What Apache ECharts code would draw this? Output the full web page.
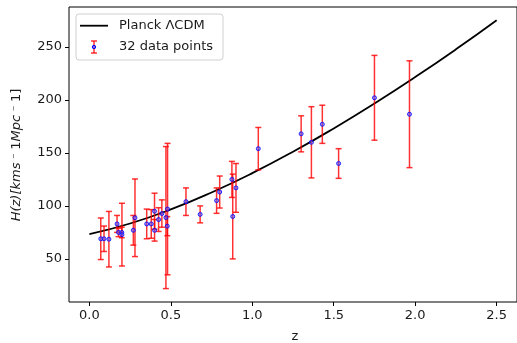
<!DOCTYPE html>
<html>
<head>
<meta charset="utf-8">
<script src="https://cdn.jsdelivr.net/npm/echarts@6/dist/echarts.min.js"></script>
<style>html,body{margin:0;padding:0;background:#fff}#c{width:517px;height:343px}</style>
</head>
<body>
<div id="c"></div>
<script>
// Observed H(z) data (32 points)
const zData = [0.07,0.09,0.12,0.17,0.179,0.199,0.20,0.27,0.28,0.352,0.38,0.40,0.4004,0.425,0.445,0.47,0.4783,0.48,0.593,0.68,0.781,0.80,0.875,0.88,0.90,1.037,1.30,1.363,1.43,1.53,1.75,1.965];
const hData = [69.0,69.0,68.6,83.0,75.0,75.0,72.9,77.0,88.8,83.0,83.0,95.0,77.0,87.1,92.8,89.0,80.9,97.0,104.0,92.0,105.0,113.1,125.0,90.0,117.0,154.0,168.0,160.0,177.0,140.0,202.0,186.5];
const hErr  = [19.6,12.0,26.2,8.0,4.0,5.0,29.6,14.0,36.6,14.0,13.5,17.0,10.2,11.2,12.9,67.0,9.0,62.0,13.0,8.0,12.0,15.1,17.0,40.0,23.0,20.0,17.0,33.6,18.0,14.0,40.0,50.4];
// Planck LCDM curve
const curveZ = [0,0.25,0.5,0.75,1.0,1.25,1.5,1.75,2.0,2.25,2.5];
const curveH = [73.3,83.4,96.7,112.7,130.9,151.1,173.1,196.6,221.5,247.7,275.2];
// Tick labels
const xTicks = [0,0.5,1.0,1.5,2.0,2.5];
const yTicks = [50,100,150,200,250];

const FONT = 'DejaVu Sans';
const chart = echarts.init(document.getElementById('c'), null, {renderer:'canvas'});

const points = zData.map((z,i)=>[z,hData[i]]);
const bars = zData.map((z,i)=>[z,hData[i]-hErr[i],hData[i]+hErr[i]]);
const curve = curveZ.map((z,i)=>[z,curveH[i]]);

const errColor = 'rgba(255,0,0,0.8)';

chart.setOption({
  animation:false,
  backgroundColor:'#fff',
  grid:{left:69,top:7,width:455,height:295,show:true,borderColor:'#000',borderWidth:1,backgroundColor:'transparent'},
  xAxis:{
    type:'value',min:-0.125,max:2.625,
    axisLine:{show:false,onZero:false},
    splitLine:{show:false},
    axisTick:{show:true,length:4,lineStyle:{color:'#000'},customValues:xTicks},
    axisLabel:{show:true,customValues:xTicks,color:'#1a1a1a',fontFamily:FONT,fontSize:13,margin:7,formatter:v=>v.toFixed(1)}
  },
  yAxis:{
    type:'value',min:9.35,max:287.65,
    axisLine:{show:false,onZero:false},
    splitLine:{show:false},
    axisTick:{show:true,length:4,lineStyle:{color:'#000'},customValues:yTicks},
    axisLabel:{show:true,customValues:yTicks,color:'#1a1a1a',fontFamily:FONT,fontSize:13,margin:7}
  },
  series:[
    {
      type:'line',data:curve,smooth:true,showSymbol:false,
      lineStyle:{color:'#000',width:1.8},z:3
    },
    {
      type:'custom',data:bars,z:4,
      renderItem:function(params,api){
        const x=api.value(0), lo=api.value(1), hi=api.value(2);
        const pLo=api.coord([x,lo]), pHi=api.coord([x,hi]);
        const cw=3;
        const st={stroke:errColor,lineWidth:1.5};
        return {type:'group',children:[
          {type:'line',shape:{x1:pLo[0],y1:pLo[1],x2:pHi[0],y2:pHi[1]},style:st},
          {type:'line',shape:{x1:pLo[0]-cw,y1:pLo[1],x2:pLo[0]+cw,y2:pLo[1]},style:st},
          {type:'line',shape:{x1:pHi[0]-cw,y1:pHi[1],x2:pHi[0]+cw,y2:pHi[1]},style:st}
        ]};
      },
      encode:{x:0,y:[1,2]}
    },
    {
      type:'scatter',data:points,symbol:'circle',symbolSize:4,z:5,
      itemStyle:{color:'rgba(90,90,255,0.7)',borderColor:'#0000ff',borderWidth:1}
    }
  ],
  graphic:[
    {type:'text',x:17,y:155,rotation:Math.PI/2,
      style:{text:'{i|H(z)[kms}{s| ⁻ }{r|1}{i|Mpc}{s| ⁻ }{r|1]}',align:'center',verticalAlign:'middle',
        rich:{i:{fontFamily:FONT,fontStyle:'italic',fontSize:13,fill:'#1a1a1a'},
              r:{fontFamily:FONT,fontSize:13,fill:'#1a1a1a'},
              s:{fontFamily:FONT,fontSize:11,fill:'#1a1a1a',verticalAlign:'top'}}}},
    {type:'text',x:295,y:337,style:{text:'z',font:'13px DejaVu Sans',fill:'#1a1a1a',align:'center',verticalAlign:'middle'}},
    {type:'group',z:100,children:[
      {type:'rect',shape:{x:76,y:14,width:147,height:46,r:3},style:{fill:'rgba(255,255,255,0.8)',stroke:'#d0d0d0',lineWidth:1}},
      {type:'line',shape:{x1:80,y1:25.7,x2:108,y2:25.7},style:{stroke:'#000',lineWidth:1.8}},
      {type:'text',x:119,y:25.7,style:{text:'Planck ΛCDM',font:'13px DejaVu Sans',fill:'#1a1a1a',verticalAlign:'middle'}},
      {type:'line',shape:{x1:94,y1:41,x2:94,y2:53},style:{stroke:errColor,lineWidth:1.5}},
      {type:'line',shape:{x1:91,y1:41,x2:97,y2:41},style:{stroke:errColor,lineWidth:1.5}},
      {type:'line',shape:{x1:91,y1:53,x2:97,y2:53},style:{stroke:errColor,lineWidth:1.5}},
      {type:'circle',shape:{cx:94,cy:47,r:1.7},style:{fill:'rgba(90,90,255,0.7)',stroke:'#0000ff',lineWidth:1}},
      {type:'text',x:119,y:46.7,style:{text:'32 data points',font:'13px DejaVu Sans',fill:'#1a1a1a',verticalAlign:'middle'}}
    ]}
  ]
});
</script>
</body>
</html>
